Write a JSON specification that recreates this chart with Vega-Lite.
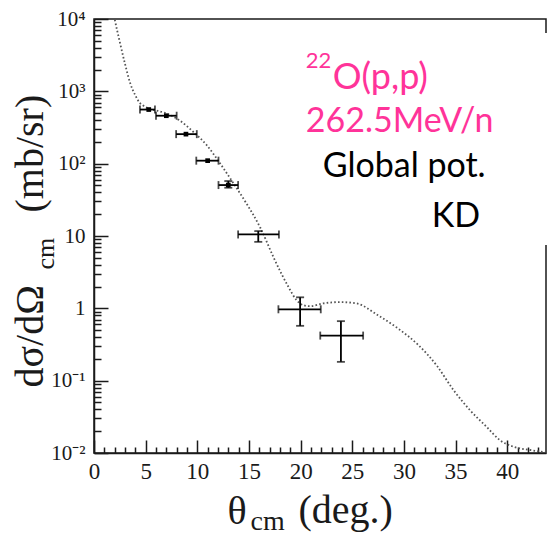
{
  "$schema": "https://vega.github.io/schema/vega-lite/v6.json",
  "width": 452,
  "height": 434,
  "autosize": {"type": "none"},
  "padding": {"left": 94, "top": 19, "right": 1, "bottom": 81},
  "background": "white",
  "datasets": {
    "curve": [
      {"theta": 1.8, "xsec": 14000}, {"theta": 2.0, "xsec": 10000}, {"theta": 2.5, "xsec": 4800},
      {"theta": 3.0, "xsec": 2400}, {"theta": 3.5, "xsec": 1300}, {"theta": 4.0, "xsec": 880},
      {"theta": 4.4, "xsec": 700}, {"theta": 4.8, "xsec": 630}, {"theta": 5.3, "xsec": 575},
      {"theta": 6.0, "xsec": 545}, {"theta": 7.0, "xsec": 495}, {"theta": 8.3, "xsec": 395},
      {"theta": 9.6, "xsec": 276}, {"theta": 10.9, "xsec": 181}, {"theta": 12.2, "xsec": 101},
      {"theta": 13.5, "xsec": 53.5}, {"theta": 14.7, "xsec": 29}, {"theta": 16.1, "xsec": 13},
      {"theta": 17.4, "xsec": 5.0}, {"theta": 18.2, "xsec": 2.9}, {"theta": 18.8, "xsec": 2.0},
      {"theta": 19.6, "xsec": 1.3}, {"theta": 20.3, "xsec": 1.1}, {"theta": 20.9, "xsec": 1.07},
      {"theta": 22.2, "xsec": 1.17}, {"theta": 23.8, "xsec": 1.22}, {"theta": 25.4, "xsec": 1.17},
      {"theta": 27.5, "xsec": 0.8}, {"theta": 29.4, "xsec": 0.53}, {"theta": 31.4, "xsec": 0.31},
      {"theta": 33.2, "xsec": 0.16}, {"theta": 34.8, "xsec": 0.074}, {"theta": 36.4, "xsec": 0.039},
      {"theta": 38.0, "xsec": 0.023}, {"theta": 39.3, "xsec": 0.015}, {"theta": 40.6, "xsec": 0.0122},
      {"theta": 42.2, "xsec": 0.011}, {"theta": 43.7, "xsec": 0.0102}
    ],
    "pts": [
      {"theta": 5.3, "thetaLo": 4.45, "thetaHi": 5.9, "xsec": 560},
      {"theta": 7.0, "thetaLo": 6.0, "thetaHi": 8.0, "xsec": 460},
      {"theta": 8.9, "thetaLo": 7.95, "thetaHi": 9.95, "xsec": 256},
      {"theta": 11.0, "thetaLo": 9.9, "thetaHi": 12.05, "xsec": 110},
      {"theta": 13.0, "thetaLo": 12.05, "thetaHi": 13.95, "xsec": 50.6, "xsecLo": 46.5, "xsecHi": 57.5},
      {"theta": 15.9, "thetaLo": 13.95, "thetaHi": 17.9, "xsec": 10.5, "xsecLo": 8.3, "xsecHi": 11.7},
      {"theta": 19.95, "thetaLo": 17.85, "thetaHi": 21.95, "xsec": 0.97, "xsecLo": 0.573, "xsecHi": 1.42},
      {"theta": 23.9, "thetaLo": 21.9, "thetaHi": 26.05, "xsec": 0.42, "xsecLo": 0.182, "xsecHi": 0.665}
    ],
    "one": [{}]
  },
  "layer": [
    {
      "data": {"name": "curve"},
      "mark": {"type": "line", "color": "#555555", "strokeWidth": 1.8, "strokeDash": [1.6, 2.2], "interpolate": "monotone", "clip": true},
      "encoding": {
        "x": {"field": "theta", "type": "quantitative",
          "scale": {"domain": [0, 43.75], "nice": false, "zero": false},
          "axis": {"orient": "bottom", "values": [0, 5, 10, 15, 20, 25, 30, 35, 40], "format": "d",
            "tickSize": -13, "labelFontSize": 23, "labelPadding": 20, "labelFlush": false,
            "title": "θ", "titleFontSize": 40, "titleX": 133, "titleY": 70,
            "titleAlign": "left", "titleBaseline": "alphabetic", "titleAngle": 0}},
        "y": {"field": "xsec", "type": "quantitative",
          "scale": {"type": "log", "domain": [0.01, 10000], "nice": false},
          "axis": {"orient": "left", "values": [0.01, 0.1, 1, 10, 100, 1000, 10000],
            "labelExpr": "datum.value > 5000 ? '10⁴' : datum.value > 500 ? '10³' : datum.value > 50 ? '10²' : datum.value > 5 ? '10' : datum.value > 0.5 ? '1' : datum.value > 0.05 ? '10⁻¹' : '10⁻²'",
            "tickSize": -14, "labelFontSize": 21, "labelPadding": 23, "labelFlush": false,
            "title": "dσ/dΩ", "titleFontSize": 40, "titleAngle": 270, "titleX": -52, "titleY": 368,
            "titleAlign": "left", "titleBaseline": "alphabetic"}}
      }
    },
    {
      "data": {"name": "pts"},
      "mark": {"type": "rule", "color": "black", "strokeWidth": 1.8},
      "encoding": {
        "x": {"field": "thetaLo", "type": "quantitative",
          "scale": {"domain": [0, 43.75], "nice": false, "zero": false},
          "axis": {"orient": "bottom", "values": [1,2,3,4,6,7,8,9,11,12,13,14,16,17,18,19,21,22,23,24,26,27,28,29,31,32,33,34,36,37,38,39,41,42,43],
            "tickSize": -6, "labels": false, "domain": false,
            "title": "(deg.)", "titleFontSize": 40, "titleX": 204, "titleY": 69,
            "titleAlign": "left", "titleBaseline": "alphabetic", "titleAngle": 0}},
        "x2": {"field": "thetaHi"},
        "y": {"field": "xsec", "type": "quantitative",
          "scale": {"type": "log", "domain": [0.01, 10000], "nice": false},
          "axis": {"orient": "left", "values": [0.02,0.03,0.04,0.05,0.06,0.07,0.08,0.09,0.2,0.3,0.4,0.5,0.6,0.7,0.8,0.9,2,3,4,5,6,7,8,9,20,30,40,50,60,70,80,90,200,300,400,500,600,700,800,900,2000,3000,4000,5000,6000,7000,8000,9000],
            "tickSize": -7, "labels": false, "domain": false,
            "title": "(mb/sr)", "titleFontSize": 40, "titleAngle": 270, "titleX": -52, "titleY": 193,
            "titleAlign": "left", "titleBaseline": "alphabetic"}}
      }
    },
    {
      "data": {"name": "pts"},
      "transform": [{"filter": "isValid(datum.xsecLo)"}],
      "mark": {"type": "rule", "color": "black", "strokeWidth": 1.8},
      "encoding": {
        "x": {"field": "theta", "type": "quantitative",
          "scale": {"domain": [0, 43.75], "nice": false, "zero": false},
          "axis": {"orient": "bottom", "ticks": false, "labels": false, "domain": false,
            "title": "cm", "titleFontSize": 28, "titleX": 156, "titleY": 76,
            "titleAlign": "left", "titleBaseline": "alphabetic", "titleAngle": 0}},
        "y": {"field": "xsecLo", "type": "quantitative",
          "scale": {"type": "log", "domain": [0.01, 10000], "nice": false},
          "axis": {"orient": "left", "ticks": false, "labels": false, "domain": false,
            "title": "cm", "titleFontSize": 26, "titleAngle": 270, "titleX": -41, "titleY": 250,
            "titleAlign": "left", "titleBaseline": "alphabetic"}},
        "y2": {"field": "xsecHi"}
      }
    },
    {
      "data": {"name": "pts"},
      "transform": [{"fold": ["thetaLo", "thetaHi"], "as": ["end", "thetaEnd"]}],
      "mark": {"type": "tick", "orient": "vertical", "color": "black", "size": 8, "thickness": 1.8},
      "encoding": {
        "x": {"field": "thetaEnd", "type": "quantitative", "scale": {"domain": [0, 43.75], "nice": false, "zero": false}, "axis": null},
        "y": {"field": "xsec", "type": "quantitative", "scale": {"type": "log", "domain": [0.01, 10000], "nice": false}, "axis": null}
      }
    },
    {
      "data": {"name": "pts"},
      "transform": [{"filter": "isValid(datum.xsecLo)"}, {"fold": ["xsecLo", "xsecHi"], "as": ["end", "xsecEnd"]}],
      "mark": {"type": "tick", "orient": "horizontal", "color": "black", "size": 8, "thickness": 1.8},
      "encoding": {
        "x": {"field": "theta", "type": "quantitative", "scale": {"domain": [0, 43.75], "nice": false, "zero": false}, "axis": null},
        "y": {"field": "xsecEnd", "type": "quantitative", "scale": {"type": "log", "domain": [0.01, 10000], "nice": false}, "axis": null}
      }
    },
    {
      "data": {"name": "pts"},
      "transform": [{"filter": "datum.theta < 14"}],
      "mark": {"type": "square", "color": "black", "filled": true, "size": 22, "opacity": 1},
      "encoding": {
        "x": {"field": "theta", "type": "quantitative", "scale": {"domain": [0, 43.75], "nice": false, "zero": false}, "axis": null},
        "y": {"field": "xsec", "type": "quantitative", "scale": {"type": "log", "domain": [0.01, 10000], "nice": false}, "axis": null}
      }
    },
    {
      "data": {"name": "one"},
      "mark": {"type": "rect", "color": "white", "opacity": 1},
      "encoding": {
        "x": {"datum": 19, "type": "quantitative", "axis": null},
        "x2": {"datum": 45},
        "y": {"datum": 7.5, "type": "quantitative", "axis": null},
        "y2": {"datum": 6400}
      }
    },
    {
      "data": {"name": "one"},
      "mark": {"type": "text", "text": "22", "font": "Lato", "fontSize": 22, "color": "#ff3399", "align": "left", "baseline": "alphabetic"},
      "encoding": {
        "x": {"datum": 20.5, "type": "quantitative", "axis": null},
        "y": {"datum": 2100, "type": "quantitative", "axis": null}
      }
    },
    {
      "data": {"name": "one"},
      "mark": {"type": "text", "text": "O(p,p)", "font": "Lato", "fontSize": 36, "color": "#ff3399", "align": "left", "baseline": "alphabetic"},
      "encoding": {
        "x": {"datum": 23.1, "type": "quantitative", "axis": null},
        "y": {"datum": 1067, "type": "quantitative", "axis": null}
      }
    },
    {
      "data": {"name": "one"},
      "mark": {"type": "text", "text": "262.5MeV/n", "font": "Lato", "fontSize": 34, "color": "#ff3399", "align": "left", "baseline": "alphabetic"},
      "encoding": {
        "x": {"datum": 20.5, "type": "quantitative", "axis": null},
        "y": {"datum": 276, "type": "quantitative", "axis": null}
      }
    },
    {
      "data": {"name": "one"},
      "mark": {"type": "text", "text": "Global pot.", "font": "Lato", "fontSize": 34, "color": "black", "align": "left", "baseline": "alphabetic"},
      "encoding": {
        "x": {"datum": 22.14, "type": "quantitative", "axis": null},
        "y": {"datum": 66, "type": "quantitative", "axis": null}
      }
    },
    {
      "data": {"name": "one"},
      "mark": {"type": "text", "text": "KD", "font": "Lato", "fontSize": 34, "color": "black", "align": "left", "baseline": "alphabetic"},
      "encoding": {
        "x": {"datum": 32.7, "type": "quantitative", "axis": null},
        "y": {"datum": 13.4, "type": "quantitative", "axis": null}
      }
    }
  ],
  "resolve": {"axis": {"x": "independent", "y": "independent"}},
  "config": {
    "view": {"stroke": "#1a1a1a", "strokeWidth": 1.5},
    "axis": {
      "grid": false, "domainColor": "#1a1a1a", "domainWidth": 1.5, "tickColor": "#1a1a1a", "tickWidth": 1.5,
      "labelColor": "#1a1a1a", "titleColor": "#1a1a1a", "labelFont": "Liberation Serif", "titleFont": "Liberation Serif",
      "titleFontWeight": "normal"
    }
  }
}
